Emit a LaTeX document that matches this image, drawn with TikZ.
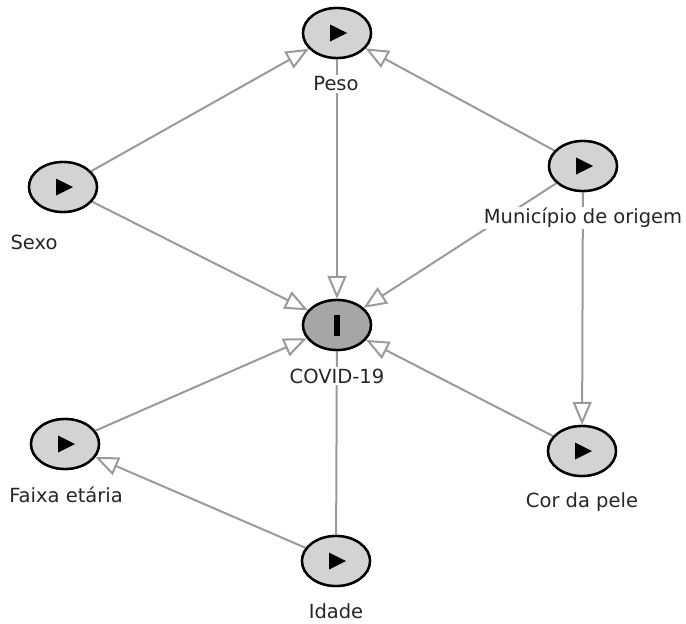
\documentclass[tikz,border=0pt]{standalone}
\usepackage{fontspec}
\setmainfont{DejaVu Sans}
\usetikzlibrary{shapes.geometric,arrows.meta}
\definecolor{edgegray}{HTML}{9A9A9A}
\definecolor{nodegray}{HTML}{D3D3D3}
\definecolor{outgray}{HTML}{A6A6A6}
\tikzset{
  var/.style={ellipse, draw=black, line width=2.4pt, fill=nodegray, minimum width=68pt, minimum height=50pt, inner sep=0pt},
  outvar/.style={var, fill=outgray},
  lbl/.style={fill=white, inner sep=1.5pt, font=\fontsize{19.5}{22}\selectfont, text=black!85},
  edge/.style={draw=edgegray, line width=2pt},
  arr/.style={edge, -{Triangle[open, length=23pt, width=19pt, fill=white]}}
}
\begin{document}
\begin{tikzpicture}[x=1pt,y=-1pt]
\useasboundingbox (0,0) rectangle (686,624);
% nodes (shapes only, for names)
\path (337,33) node[var] (peso) {};
\path (63,187) node[var] (sexo) {};
\path (583,166) node[var] (mun) {};
\path (337,325) node[outvar] (covid) {};
\path (65,444) node[var] (faixa) {};
\path (336,561) node[var] (idade) {};
\path (582,451) node[var] (cor) {};
% edges
\draw[arr] (sexo) -- (peso);
\draw[arr] (sexo) -- (covid);
\draw[arr] (peso) -- (covid);
\draw[arr] (mun) -- (peso);
\draw[arr] (mun) -- (covid);
\draw[arr] (mun) -- (cor);
\draw[arr] (cor) -- (covid);
\draw[arr] (faixa) -- (covid);
\draw[arr] (idade) -- (faixa);
\draw[edge] (idade) -- (covid);
% labels
\node[lbl] (lpeso) at (336,84) {Peso};
\node[lbl] (lsexo) at (34,242) {Sexo};
\node[lbl] (lmun) at (583,218) {Município de origem};
\node[lbl] (lcovid) at (337,376) {COVID-19};
\node[lbl] (lfaixa) at (66,495) {Faixa etária};
\node[lbl] (lidade) at (336,611) {Idade};
\node[lbl] (lcor) at (582,502) {Cor da pele};
% redraw nodes on top
\foreach \n/\s in {peso/var,sexo/var,mun/var,faixa/var,idade/var,cor/var}{
  \node[\s] at (\n) {};
  \fill[black] ([shift={(-7,-8.5)}]\n.center) -- ([shift={(-7,8.5)}]\n.center) -- ([shift={(10,0)}]\n.center) -- cycle;
}
\node[outvar] at (covid) {};
\fill[black] ([shift={(-3,-10.5)}]covid.center) rectangle ([shift={(3,10.5)}]covid.center);
\end{tikzpicture}
\end{document}
